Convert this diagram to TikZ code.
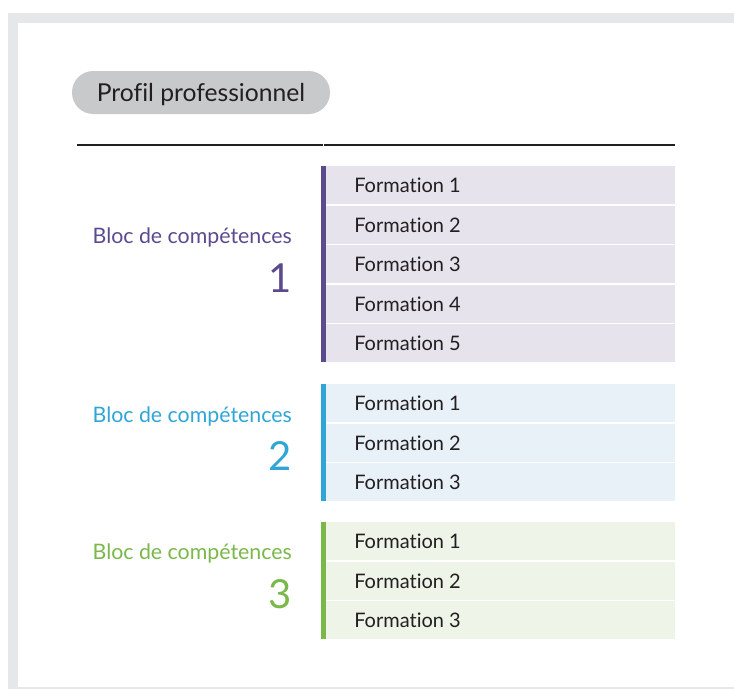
\documentclass[tikz,border=0pt]{standalone}
\usepackage{fontspec}
\setmainfont{Lato}[Ligatures={NoCommon}]
\definecolor{framegray}{HTML}{E6E7E8}
\definecolor{pillgray}{HTML}{C8C9CB}
\definecolor{ink}{HTML}{231F20}
\definecolor{cA}{HTML}{5C4A8F}
\definecolor{cB}{HTML}{2FA6D6}
\definecolor{cC}{HTML}{7AB84A}
\definecolor{fA}{HTML}{E6E3ED}
\definecolor{fB}{HTML}{E8F0F8}
\definecolor{fC}{HTML}{EEF4E8}
\tikzset{
  ftext/.style={anchor=west, inner sep=0pt, text=ink, font=\fontsize{15}{18}\selectfont},
  bloctext/.style={anchor=base east, inner sep=0pt, font=\fontsize{16}{19}\selectfont},
  numtext/.style={anchor=base east, inner sep=0pt, font=\fontsize{30}{34}\selectfont},
  rule/.style={line width=1.9pt, draw=ink},
}
\begin{document}
\begin{tikzpicture}[x=0.75pt, y=-0.75pt]
\useasboundingbox (0,0) rectangle (734,689);
% frame
\fill[framegray] (8,13) rectangle (734,689);
\fill[white] (18,23) rectangle (734,687);
% pill
\fill[pillgray, rounded corners=16pt] (72,71) rectangle (330,114);
\node (title) [anchor=base, inner sep=0pt, text=ink, font=\fontsize{18.5}{22}\selectfont] at (201,101) {Profil professionnel};
% rule
\coordinate (r0) at (77,145);
\coordinate (r1) at (323,145);
\coordinate (r2) at (324,145);
\coordinate (r3) at (675,145);
\draw[rule] (r0) -- (r1);
\draw[rule] (r2) -- (r3);
% block 1
\fill[fA] (326,166) rectangle (675,204);
\fill[fA] (326,205.5) rectangle (675,243.5);
\fill[fA] (326,245) rectangle (675,283);
\fill[fA] (326,284.5) rectangle (675,322.5);
\fill[fA] (326,324) rectangle (675,362);
\fill[cA] (321,166) rectangle (326,362);
\node (a1) [ftext] at (354,185.5) {Formation 1};
\node (a2) [ftext] at (354,225) {Formation 2};
\node (a3) [ftext] at (354,264.5) {Formation 3};
\node (a4) [ftext] at (354,304) {Formation 4};
\node (a5) [ftext] at (354,343.5) {Formation 5};
\node (la) [bloctext, text=cA] at (292,243) {Bloc de compétences};
\node (na) [numtext, text=cA] at (292,292) {1};
% block 2
\fill[fB] (326,384) rectangle (675,422);
\fill[fB] (326,423.5) rectangle (675,461.5);
\fill[fB] (326,463) rectangle (675,501);
\fill[cB] (321,384) rectangle (326,501);
\node (b1) [ftext] at (354,403.5) {Formation 1};
\node (b2) [ftext] at (354,443) {Formation 2};
\node (b3) [ftext] at (354,482.5) {Formation 3};
\node (lb) [bloctext, text=cB] at (292,422) {Bloc de compétences};
\node (nb) [numtext, text=cB] at (292,470) {2};
% block 3
\fill[fC] (326,522) rectangle (675,560);
\fill[fC] (326,561.5) rectangle (675,599.5);
\fill[fC] (326,601) rectangle (675,639);
\fill[cC] (321,522) rectangle (326,639);
\node (c1) [ftext] at (354,541.5) {Formation 1};
\node (c2) [ftext] at (354,581) {Formation 2};
\node (c3) [ftext] at (354,620.5) {Formation 3};
\node (lc) [bloctext, text=cC] at (292,559) {Bloc de compétences};
\node (nc) [numtext, text=cC] at (292,608) {3};
\end{tikzpicture}
\end{document}
